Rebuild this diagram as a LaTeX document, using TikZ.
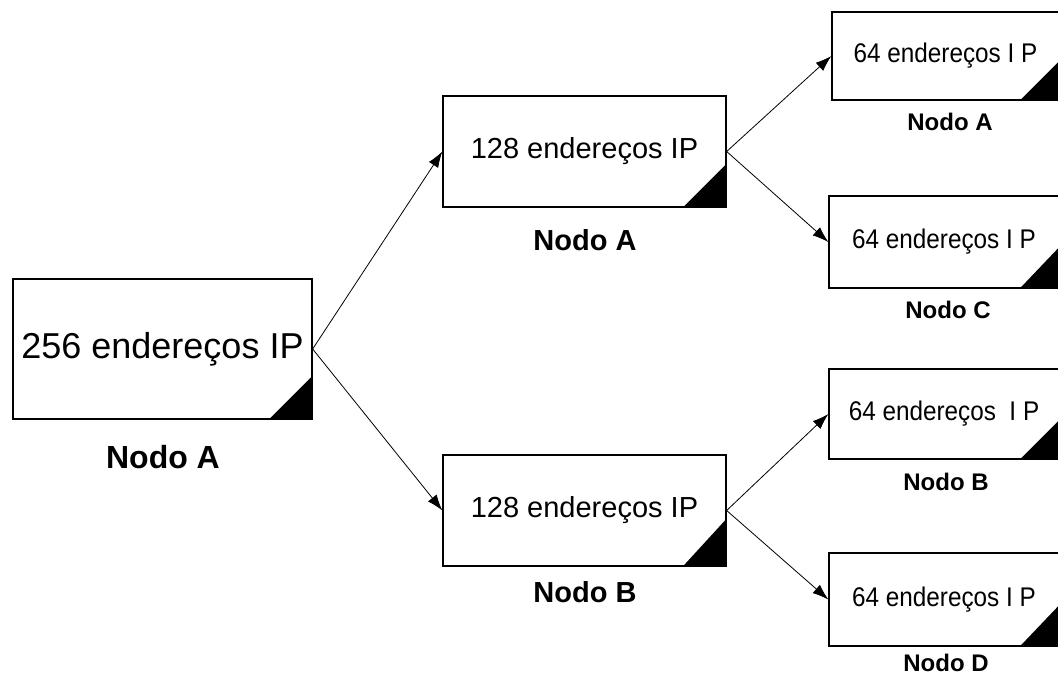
\documentclass[tikz,border=0pt]{standalone}
\usepackage{fontspec}
\setmainfont{Liberation Sans}
\usetikzlibrary{arrows.meta}
\begin{document}
\begin{tikzpicture}[x=1pt,y=-1pt,
  box/.style={draw=black,line width=1.3pt,fill=white,inner sep=0pt,rectangle},
  bigtxt/.style={font=\fontsize{36}{40}\selectfont},
  midtxt/.style={font=\fontsize{29}{34}\selectfont},
  smalltxt/.style={font=\fontsize{27}{31}\selectfont},
  biglbl/.style={font=\fontsize{32}{36}\selectfont\bfseries},
  midlbl/.style={font=\fontsize{29}{34}\selectfont\bfseries},
  smalllbl/.style={font=\fontsize{24}{28}\selectfont\bfseries},
  conn/.style={line width=0.8pt,-{Latex[length=16pt,width=11pt]}},
  corner/.style={fill=black}
]
\useasboundingbox[fill=white] (0,0) rectangle (1058,675);

% boxes
\node[box,bigtxt,minimum width=299pt,minimum height=140pt] (n1) at (162.5,349) {256 endereços IP};
\node[box,midtxt,minimum width=283pt,minimum height=111pt] (n2) at (584.5,151.5) {128 endereços IP};
\node[box,midtxt,minimum width=283pt,minimum height=111pt] (n3) at (584.5,510.5) {128 endereços IP};
\node[box,smalltxt,minimum width=227pt,minimum height=88pt] (r1) at (945.5,56) {\scalebox{0.9}[1]{64 endereços I P}};
\node[box,smalltxt,minimum width=230pt,minimum height=92pt] (r2) at (944,242) {\scalebox{0.9}[1]{64 endereços I P}};
\node[box,smalltxt,minimum width=230pt,minimum height=90pt] (r3) at (944,414) {\scalebox{0.9}[1]{64 endereços \ I P}};
\node[box,smalltxt,minimum width=230pt,minimum height=93pt] (r4) at (944,599.5) {\scalebox{0.9}[1]{64 endereços I P}};

% corner triangles
\fill[corner] (n1.south east) -- +(-44,0) -- +(0,-44) -- cycle;
\fill[corner] (n2.south east) -- +(-44,0) -- +(0,-44) -- cycle;
\fill[corner] (n3.south east) -- +(-44,0) -- +(0,-48) -- cycle;
\fill[corner] (r1.south east) -- +(-40,0) -- +(0,-40) -- cycle;
\fill[corner] (r2.south east) -- +(-40,0) -- +(0,-42) -- cycle;
\fill[corner] (r3.south east) -- +(-40,0) -- +(0,-40) -- cycle;
\fill[corner] (r4.south east) -- +(-40,0) -- +(0,-42) -- cycle;

% labels
\node[biglbl] (l1) at (163,457) {Nodo A};
\node[midlbl] (l2) at (585,240) {Nodo A};
\node[midlbl] (l3) at (585,592) {Nodo B};
\node[smalllbl] (l4) at (950,122) {Nodo A};
\node[smalllbl] (l5) at (948,310) {Nodo C};
\node[smalllbl] (l6) at (946,482) {Nodo B};
\node[smalllbl] (l7) at (946,663) {Nodo D};

% connectors
\draw[conn] (n1.east) -- (n2.west);
\draw[conn] (n1.east) -- (n3.west);
\draw[conn] (n2.east) -- (r1.west);
\draw[conn] (n2.east) -- (r2.west);
\draw[conn] (n3.east) -- (r3.west);
\draw[conn] (n3.east) -- (r4.west);
\end{tikzpicture}
\end{document}
